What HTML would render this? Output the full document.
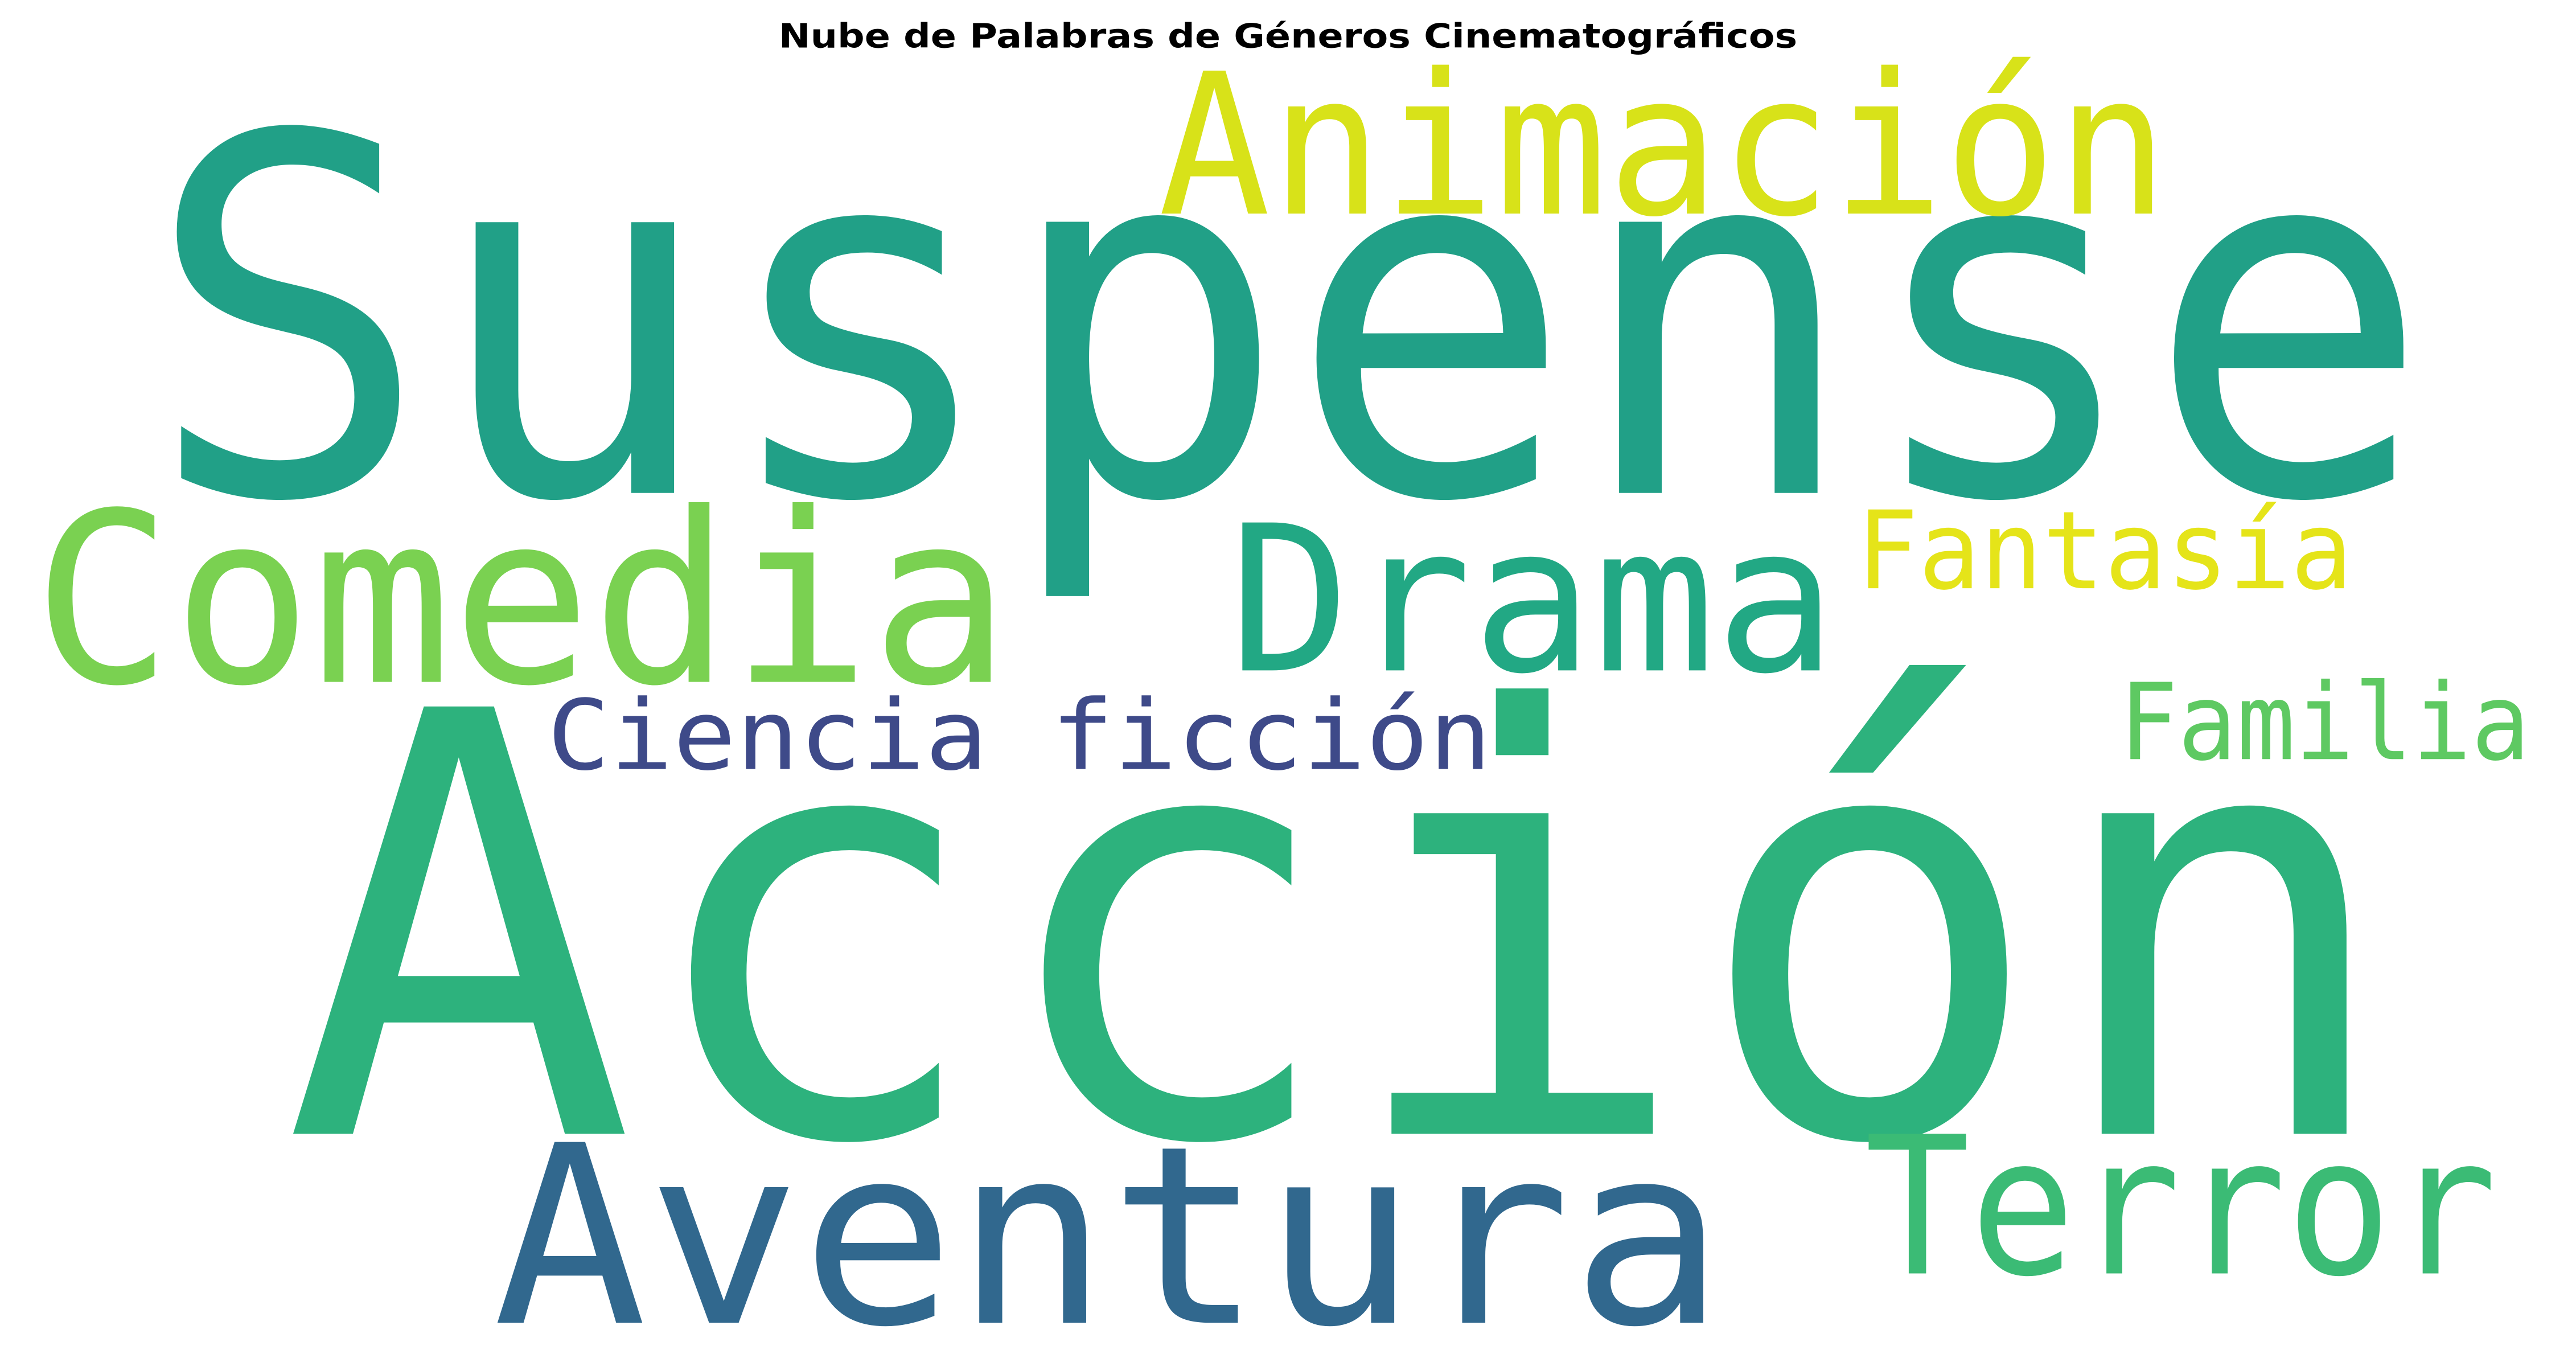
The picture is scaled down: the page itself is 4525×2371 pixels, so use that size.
<!DOCTYPE html>
<html><head><meta charset="utf-8">
<style>
html,body{margin:0;padding:0;background:#fff;}
svg{display:block;}
</style></head>
<body>
<svg id="cloud" width="4525" height="2371" viewBox="0 0 1568 821.6" xmlns="http://www.w3.org/2000/svg">
<rect width="1568" height="821.6" fill="#fff"/>
<text x="784" y="29" text-anchor="middle" font-family="'DejaVu Sans','Liberation Sans',sans-serif" font-weight="bold" font-size="20.5" textLength="620" lengthAdjust="spacingAndGlyphs" fill="#000">Nube de Palabras de Géneros Cinematográficos</text>
<g id="words"></g>
</svg>
<script>
const words = ["Suspense","Acción","Animación","Comedia","Drama","Fantasía","Ciencia ficción","Familia","Aventura","Terror"];
const weights = [100, 95, 40, 48, 41, 22, 21, 21, 52, 39];
const colors = ["#21a087","#2db27d","#d8e219","#7ad151","#22a884","#e5e419","#3e4a89","#5ec962","#31688e","#3bbb75"];
// layout (word cloud placement; not data)
const layoutX = [88,172,705,20,748,1130,333,1290,300,1135];
const layoutBase = [300,690,130,415,408,358,468,462,805,775];
const layoutCap = [220,260,87,105,90,48,43,47,110,85];
const layoutW = [1392,1288,615,595,370,302,575,250,750,385];
const g = document.getElementById('words');
const NS = "http://www.w3.org/2000/svg";
for (let i = 0; i < words.length; i++) {
  const t = document.createElementNS(NS, 'text');
  t.setAttribute('x', layoutX[i]);
  t.setAttribute('y', layoutBase[i]);
  t.setAttribute('font-family', "'DejaVu Sans Mono','Liberation Mono',monospace");
  t.setAttribute('font-size', (layoutCap[i] / 0.729).toFixed(1));
  t.setAttribute('textLength', layoutW[i]);
  t.setAttribute('lengthAdjust', 'spacingAndGlyphs');
  t.setAttribute('fill', colors[i]);
  t.setAttribute('data-weight', weights[i]);
  t.textContent = words[i];
  
  
  g.appendChild(t);
}
</script>
</body></html>
